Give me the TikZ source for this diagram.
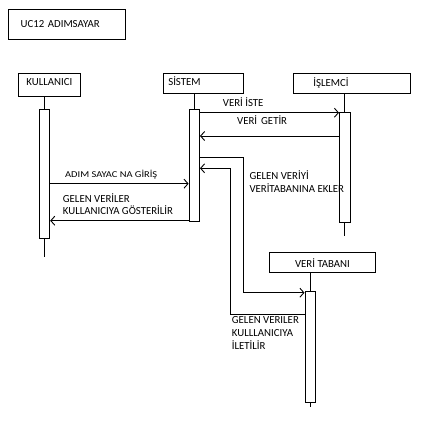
\documentclass[tikz,border=0pt]{standalone}
\usepackage{fontspec}
\setmainfont{Carlito}
\usetikzlibrary{arrows.meta}
\tikzset{
  every node/.style={font=\fontsize{10.8}{12.7}\selectfont},
  box/.style={draw, line width=0.9pt, inner sep=0pt, minimum height=20pt, text height=6.9pt, text depth=0pt},
  actbar/.style={draw, line width=0.9pt, fill=white, inner sep=0pt, minimum width=10.5pt},
  life/.style={line width=0.9pt},
  msg/.style={line width=0.9pt, -{Straight Barb[length=4pt,width=9pt,line width=0.9pt]}},
  lbl/.style={inner sep=0pt, anchor=base west},
  mlbl/.style={inner sep=0pt, anchor=base west, align=left}
}
\begin{document}
\begin{tikzpicture}[x=1pt,y=-1pt]
\useasboundingbox[fill=white] (0,0) rectangle (438,426);
% title
\node[box, minimum width=117.7pt, minimum height=30pt, text width=92.3pt, inner xsep=12.7pt, align=left, text depth=0.9pt] (title) at (66.8,24.3) {UC12 ADIMSAYAR};
% participant boxes
\node[box, minimum width=62pt, minimum height=23pt, text depth=4.5pt] (kul) at (49.3,84.5) {KULLANICI};
\node[box, minimum width=80pt, text width=70pt, inner xsep=5pt, align=left, text depth=3.5pt] (sis) at (203.3,83.3) {SİSTEM};
\node[box, minimum width=96.7pt, text width=76.7pt, inner xsep=20pt, align=left] (isl) at (351.7,83.3) {İŞLEMCİ};
\node[box, minimum width=106.7pt, text height=9.2pt] (vt) at (322.5,262.7) {VERİ TABANI};
% lifeline ends
\coordinate (kulend) at (44.5,257);
\coordinate (sisend) at (194.3,110);
\coordinate (islend) at (344.7,236);
\coordinate (vtend) at (310.2,406.7);
\draw[life] (kul.south -| kulend) -- (kulend);
\draw[life] (sis.south -| sisend) -- (sisend);
\draw[life] (isl.south -| islend) -- (islend);
\draw[life] (vt.south -| vtend) -- (vtend);
% activation bars
\node[actbar, minimum height=129pt] (kulbar) at (44.5,173.5) {};
\node[actbar, minimum height=112.4pt] (sisbar) at (194.3,165.5) {};
\node[actbar, minimum height=110.4pt] (islbar) at (344.7,167.5) {};
\node[actbar, minimum height=110.6pt] (vtbar) at (310.2,347) {};
% messages
\coordinate (c1) at (0,112.7);
\draw[msg] (sisbar.east |- c1) -- (islbar.west |- c1);
\node[lbl] (l1) at (222.7,106) {VERİ İSTE};
\coordinate (c2) at (0,136);
\draw[msg] (islbar.west |- c2) -- (sisbar.east |- c2);
\node[lbl] (l2) at (237,124.5) {VERİ\hspace{4pt}GETİR};
\coordinate (c3a) at (243.5,157.7);
\coordinate (c3b) at (243.5,292.7);
\draw[msg] (sisbar.east |- c3a) -- (c3a) -- (c3b) -- (vtbar.west |- c3b);
\coordinate (c4a) at (230.7,314);
\coordinate (c4b) at (230.7,168.3);
\draw[msg] (vtbar.west |- c4a) -- (c4a) -- (c4b) -- (sisbar.east |- c4b);
\node[mlbl] (l3) at (249.3,192.3) {GELEN VERİYİ\\VERİTABANINA EKLER};
\node[mlbl] (l4) at (231.7,349) {GELEN VERILER\\KULLLANICIYA\\İLETİLİR};
\coordinate (c5) at (0,183.7);
\draw[msg] (kulbar.east |- c5) -- (sisbar.west |- c5);
\node[lbl, font=\fontsize{9}{11}\selectfont\addfontfeature{FakeStretch=1.16}] (l5) at (65,177) {ADIM SAYAC NA GİRİŞ};
\coordinate (c6) at (0,220.7);
\draw[msg] (sisbar.west |- c6) -- (kulbar.east |- c6);
\node[mlbl] (l6) at (62.7,214.7) {GELEN VERİLER\\KULLANICIYA GÖSTERİLİR};
\end{tikzpicture}
\end{document}
